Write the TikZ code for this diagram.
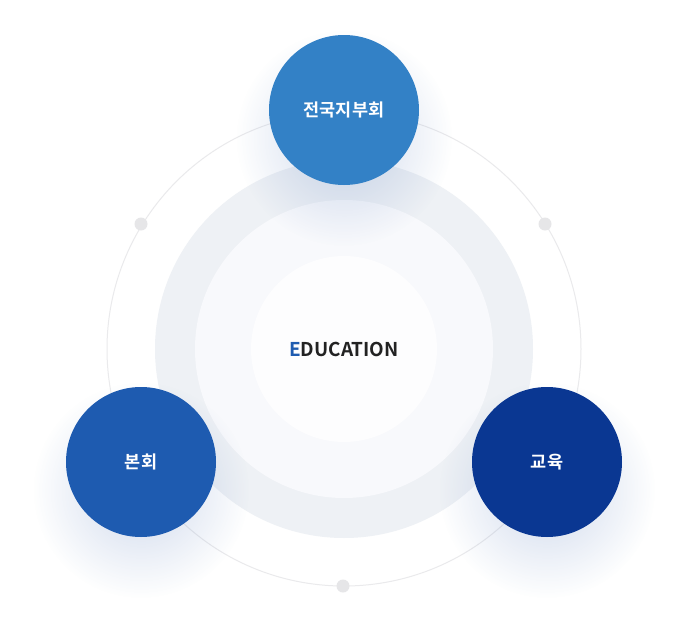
\documentclass[tikz,border=0pt]{standalone}
\usepackage{fontspec}
\newfontfamily\kr{Noto Sans CJK KR}[BoldFont={Noto Sans CJK KR Bold}]
\usetikzlibrary{fadings}
\tikzfading[name=softfade, inner color=transparent!0, outer color=transparent!100]
\definecolor{ringc}{HTML}{EEF1F5}
\definecolor{innerc}{HTML}{F8F9FC}
\definecolor{corec}{HTML}{FDFDFE}
\definecolor{linec}{HTML}{EAEAEC}
\definecolor{dotc}{HTML}{E6E6E8}
\definecolor{topc}{HTML}{3381C6}
\definecolor{leftc}{HTML}{1E5BB0}
\definecolor{rightc}{HTML}{0A3792}
\definecolor{shadowc}{HTML}{5F82C0}
\definecolor{txtc}{HTML}{222222}
\definecolor{ec}{HTML}{1E5BB0}
\tikzset{
  bigc/.style={circle, minimum size=150pt, inner sep=0pt, text=white, font=\kr\fontsize{17.5}{20}\selectfont\bfseries},
  dotn/.style={circle, fill=dotc, minimum size=13pt, inner sep=0pt},
  glow/.style={fill=shadowc, path fading=softfade, fill opacity=0.3}
}
\begin{document}
\begin{tikzpicture}[x=1pt,y=-1pt]
\fill[white] (0,0) rectangle (689,635);
\useasboundingbox (0,0) rectangle (689,635);
\coordinate (c) at (344,349);
% thin outer circle
\draw[linec, line width=1pt] (c) circle[radius=237];
% rings
\fill[ringc] (c) circle[radius=189];
\fill[innerc] (c) circle[radius=149];
\fill[corec] (c) circle[radius=93];
% shadows
\fill[glow] (344,138) circle[radius=108];
\fill[glow] (141,490) circle[radius=108];
\fill[glow] (547,490) circle[radius=108];
% dots
\node[dotn] (d1) at (141,224) {};
\node[dotn] (d2) at (545,224) {};
\node[dotn] (d3) at (343,586) {};
% main circles
\node[bigc, fill=topc] (top) at (344,110) {전국지부회};
\node[bigc, fill=leftc] (left) at (141,462) {본회};
\node[bigc, fill=rightc] (right) at (547,462) {교육};
% center text
\node[font=\kr\fontsize{19}{22}\selectfont\bfseries, text=txtc] (edu) at (344,349) {\textcolor{ec}{E}DUCATION};
\end{tikzpicture}
\end{document}
